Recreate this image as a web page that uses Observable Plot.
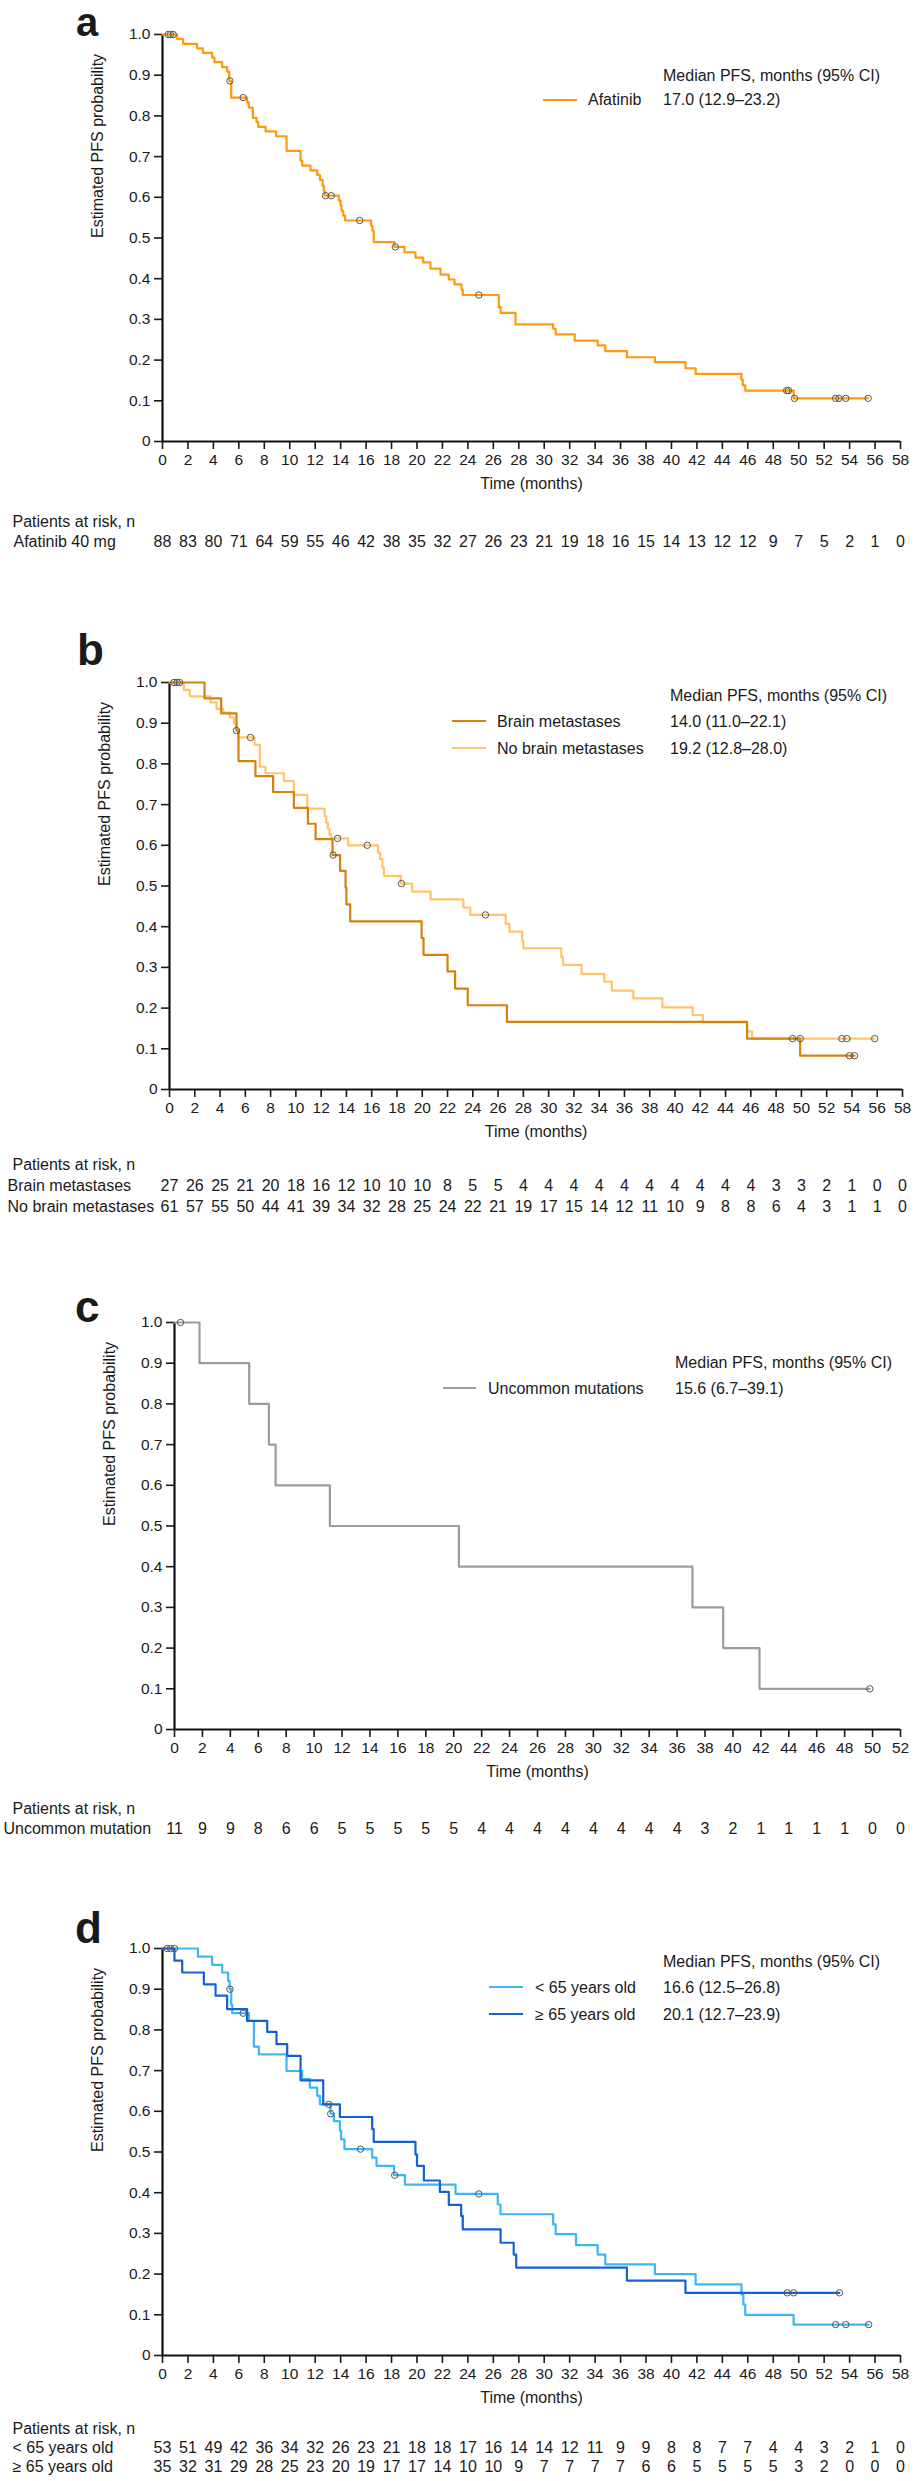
<!DOCTYPE html>
<html><head><meta charset="utf-8">
<script src="https://cdn.jsdelivr.net/npm/d3@7"></script>
<script src="https://cdn.jsdelivr.net/npm/@observablehq/plot@0.6"></script>
<style>
body{margin:0;background:#fff;}
#root{position:relative;width:914px;height:2481px;overflow:hidden;font-family:"Liberation Sans",Arial,sans-serif;color:#1a1a1a;background:#fff;}
.t{position:absolute;white-space:nowrap;font-size:16px;line-height:20px;}
.letter{position:absolute;font-weight:bold;font-size:44px;line-height:24px;}
.letterTop{position:absolute;font-weight:bold;font-size:40px;line-height:normal;}
.sw{position:absolute;height:0;border-top-style:solid;border-top-width:2.5px;}
</style></head><body><div id="root"></div>
<script>
// ---------- Panel a: Afatinib ----------
const afatinibTime = [0,1.15,1.62,2.72,3.17,3.9,4.09,4.69,5.08,5.25,5.4,6.65,6.79,7.1,7.39,7.52,8.1,8.93,9.75,10.85,10.98,11.63,12.16,12.37,12.58,12.68,12.75,13.86,13.99,14.07,14.2,14.35,16.4,16.5,16.6,18.23,19.02,19.88,20.49,21.06,21.85,22.5,22.95,23.5,23.6,26.43,26.57,27.74,30.7,30.9,32.4,34.2,34.8,36.5,38.7,41.1,41.9,45.5,45.6,45.8,49.6];
const afatinibSurv = [1,0.989,0.977,0.966,0.955,0.943,0.932,0.92,0.909,0.886,0.845,0.833,0.82,0.795,0.785,0.773,0.762,0.75,0.714,0.69,0.678,0.666,0.655,0.643,0.628,0.616,0.604,0.592,0.58,0.567,0.555,0.543,0.53,0.518,0.49,0.478,0.465,0.452,0.44,0.425,0.41,0.398,0.386,0.373,0.36,0.33,0.316,0.288,0.277,0.263,0.248,0.236,0.222,0.207,0.195,0.18,0.166,0.152,0.138,0.125,0.106];
const afatinibEnd = 55.46;
const afatinibCensorTime = [0.45,0.63,0.84,5.3,6.34,12.81,13.26,15.5,18.3,24.86,49.05,49.2,49.67,52.9,53.16,53.7,55.46];
const afatinibCensorSurv = [1,1,1,0.886,0.845,0.604,0.604,0.543,0.478,0.36,0.125,0.125,0.106,0.106,0.106,0.106,0.106];
const atRiskAfatinib = [88,83,80,71,64,59,55,46,42,38,35,32,27,26,23,21,19,18,16,15,14,13,12,12,9,7,5,2,1,0];

// ---------- Panel b: brain metastases ----------
const brainTime = [0,2.77,4.09,5.3,5.46,6.8,8.2,9.84,10.95,11.56,12.9,13.5,13.93,14.0,14.3,19.95,20.1,22.0,22.6,23.6,26.7,45.7,49.9];
const brainSurv = [1,0.961,0.924,0.882,0.807,0.77,0.731,0.692,0.653,0.615,0.576,0.537,0.496,0.455,0.413,0.372,0.331,0.29,0.248,0.207,0.166,0.125,0.083];
const brainEnd = 54.2;
const brainCensorTime = [0.35,0.6,12.95,49.3,53.8,54.2];
const brainCensorSurv = [1,1,0.576,0.125,0.083,0.083];
const noBrainTime = [0,1.13,1.6,3.25,3.72,4.25,4.78,5.1,5.3,5.46,6.73,7.15,7.6,9.05,9.84,10.9,12.27,12.4,12.53,12.66,12.8,14.14,16.5,16.66,16.84,16.97,18.3,19.2,20.66,23.25,23.8,26.6,26.9,27.9,28.0,31.0,31.14,32.6,34.4,35.0,36.7,39.0,41.4,42.2,45.7,46.1];
const noBrainSurv = [1,0.982,0.966,0.951,0.935,0.926,0.914,0.9,0.882,0.865,0.847,0.793,0.777,0.758,0.724,0.69,0.672,0.656,0.64,0.627,0.617,0.6,0.582,0.566,0.545,0.525,0.506,0.486,0.467,0.447,0.429,0.407,0.388,0.366,0.347,0.325,0.306,0.284,0.265,0.243,0.224,0.202,0.183,0.165,0.143,0.125];
const noBrainEnd = 55.8;
const noBrainCensorTime = [0.8,5.3,6.41,13.3,15.65,18.35,25.0,49.9,53.2,53.6,55.8];
const noBrainCensorSurv = [1,0.882,0.865,0.617,0.6,0.506,0.429,0.125,0.125,0.125,0.125];
const atRiskBrain = [27,26,25,21,20,18,16,12,10,10,10,8,5,5,4,4,4,4,4,4,4,4,4,4,3,3,2,1,0,0];
const atRiskNoBrain = [61,57,55,50,44,41,39,34,32,28,25,24,22,21,19,17,15,14,12,11,10,9,8,8,6,4,3,1,1,0];

// ---------- Panel c: uncommon mutations ----------
const uncommonTime = [0,1.79,5.35,6.76,7.24,11.13,20.37,37.1,39.3,41.9];
const uncommonSurv = [1,0.9,0.8,0.7,0.6,0.5,0.4,0.3,0.2,0.1];
const uncommonEnd = 49.8;
const uncommonCensorTime = [0.43,49.8];
const uncommonCensorSurv = [1,0.1];
const atRiskUncommon = [11,9,9,8,6,6,5,5,5,5,5,4,4,4,4,4,4,4,4,3,2,1,1,1,1,0,0];

// ---------- Panel d: age ----------
const youngTime = [0,2.78,3.9,4.69,5.16,5.28,5.4,5.48,6.79,7.18,7.57,9.75,10.98,11.58,12.16,12.37,13.2,13.47,13.94,14.04,14.3,16.48,16.82,18.2,19.05,23.03,26.35,26.56,30.7,30.9,32.5,34.2,34.8,38.7,41.9,45.5,45.65,45.8,49.6];
const youngSurv = [1,0.98,0.96,0.941,0.92,0.9,0.862,0.841,0.822,0.759,0.74,0.699,0.679,0.658,0.638,0.617,0.594,0.576,0.552,0.531,0.507,0.486,0.466,0.443,0.42,0.397,0.371,0.347,0.322,0.298,0.271,0.248,0.224,0.2,0.175,0.15,0.125,0.1,0.076];
const youngEnd = 55.5;
const youngCensorTime = [0.37,0.63,0.94,5.3,6.34,13.07,13.22,15.56,18.25,24.86,52.9,53.7,55.5];
const youngCensorSurv = [1,1,1,0.9,0.841,0.617,0.594,0.507,0.443,0.397,0.076,0.076,0.076];
const oldTime = [0,0.94,1.55,3.25,4.17,5.08,6.65,8.23,8.96,9.8,10.85,12.63,13.94,16.48,16.6,19.88,20.0,20.54,21.8,22.5,23.47,23.6,26.57,27.6,27.8,36.5,41.1];
const oldSurv = [1,0.97,0.941,0.912,0.884,0.851,0.822,0.795,0.765,0.736,0.676,0.617,0.586,0.556,0.525,0.494,0.466,0.43,0.402,0.37,0.343,0.31,0.277,0.248,0.216,0.184,0.154];
const oldEnd = 53.2;
const oldCensorTime = [49.1,49.6,53.2];
const oldCensorSurv = [0.154,0.154,0.154];
const atRiskYoung = [53,51,49,42,36,34,32,26,23,21,18,18,17,16,14,14,12,11,9,9,8,8,7,7,4,4,3,2,1,0];
const atRiskOld = [35,32,31,29,28,25,23,20,19,17,17,14,10,10,9,7,7,7,7,6,6,5,5,5,5,3,2,0,0,0];

// ---------- text ----------
const legendHeader = "Median PFS, months (95% CI)";
const yTickLabels = ["0","0.1","0.2","0.3","0.4","0.5","0.6","0.7","0.8","0.9","1.0"];

const FONT = '"Liberation Sans", Arial, sans-serif';
const root = document.getElementById("root");

function series(time, surv, end, color, width) {
  const pts = time.map((t, i) => ({t, s: surv[i]}));
  pts.push({t: end, s: surv[surv.length - 1]});
  return {pts, color, width};
}
function censors(time, surv) { return time.map((t, i) => ({t, s: surv[i]})); }

function panel(cfg) {
  const {top, height, marginTop, marginLeft, marginRight, xMax, lines, cens, rows, patientsDy} = cfg;
  const frameH = 407;
  const marginBottom = height - marginTop - frameH;
  const ticksX = d3.range(0, xMax + 1, 2);
  const ticksY = d3.range(0, 11).map(i => i / 10);
  const marks = [
    Plot.axisX({ticks: ticksX, tickSize: 8, tickPadding: 4, tickFormat: d => String(d), label: null, fontSize: 15.5, strokeWidth: 1.6}),
    Plot.axisY({ticks: ticksY, tickSize: 8, tickPadding: 4, tickFormat: d => yTickLabels[Math.round(d * 10)], label: null, fontSize: 15.5, strokeWidth: 1.6}),
    Plot.ruleX([0], {stroke: "#111", strokeWidth: 2.2}),
    Plot.ruleY([0], {stroke: "#111", strokeWidth: 2.2}),
    ...lines.map(l => Plot.line(l.pts, {x: "t", y: "s", curve: "step-after", stroke: l.color, strokeWidth: l.width})),
    Plot.dot(cens, {x: "t", y: "s", r: 3.2, stroke: "#555", strokeWidth: 1, fill: "none"}),
    Plot.text(["Estimated PFS probability"], {frameAnchor: "left", dx: -65, rotate: -90, fontSize: 16}),
    Plot.text(["Time (months)"], {frameAnchor: "bottom", dy: 47, fontSize: 16}),
    Plot.text(["Patients at risk, n"], {frameAnchor: "bottom-left", dx: 12 - marginLeft, dy: patientsDy, textAnchor: "start", fontSize: 16})
  ];
  for (const r of rows) {
    marks.push(Plot.text([r.label], {frameAnchor: "bottom-left", dx: r.labelX - marginLeft, dy: r.dy, textAnchor: "start", fontSize: 16}));
    marks.push(Plot.text(ticksX.map((x, i) => ({x, n: r.values[i]})), {x: "x", text: d => String(d.n), frameAnchor: "bottom", dy: r.dy, fontSize: 16}));
  }
  const svg = Plot.plot({
    width: 914, height, marginTop, marginLeft, marginRight, marginBottom,
    x: {domain: [0, xMax]},
    y: {domain: [0, 1]},
    style: {fontFamily: FONT, fontSize: "15.5px", color: "#1a1a1a", background: "white", overflow: "visible"},
    marks
  });
  svg.style.position = "absolute";
  svg.style.left = "0px";
  svg.style.top = top + "px";
  root.appendChild(svg);
}

function txt(s, x, yc) {
  const d = document.createElement("div");
  d.className = "t"; d.textContent = s;
  d.style.left = x + "px"; d.style.top = (yc - 10) + "px";
  root.appendChild(d);
}
function swatch(x1, x2, y, color) {
  const d = document.createElement("div");
  d.className = "sw";
  d.style.left = x1 + "px"; d.style.width = (x2 - x1) + "px";
  d.style.top = (y - 1.25) + "px"; d.style.borderTopColor = color;
  root.appendChild(d);
}
function letter(ch, x, baseline) {
  const d = document.createElement("div");
  d.className = "letter"; d.textContent = ch;
  d.style.left = x + "px"; d.style.top = (baseline - 27) + "px";
  root.appendChild(d);
}
function letterAtTop(ch, x) {
  const d = document.createElement("div");
  d.className = "letterTop"; d.textContent = ch;
  d.style.left = x + "px"; d.style.top = "0px";
  root.appendChild(d);
}

const cA = "#FF9A0A", cBrain = "#D4820C", cNoBrain = "#FFC46A", cUnc = "#9C9C9C", cYoung = "#3DB7F4", cOld = "#1262D4";

// Panel a
panel({top: 0, height: 590, marginTop: 34, marginLeft: 162, marginRight: 14, xMax: 58,
  lines: [series(afatinibTime, afatinibSurv, afatinibEnd, cA, 2.2)],
  cens: censors(afatinibCensorTime, afatinibCensorSurv),
  patientsDy: 85,
  rows: [{label: "Afatinib 40 mg", labelX: 13, dy: 105, values: atRiskAfatinib}]});
letterAtTop("a", 76);
txt(legendHeader, 663, 76);
swatch(543, 577, 100, cA); txt("Afatinib", 588, 100); txt("17.0 (12.9–23.2)", 663, 100);

// Panel b
panel({top: 590, height: 660, marginTop: 92, marginLeft: 169, marginRight: 12, xMax: 58,
  lines: [series(noBrainTime, noBrainSurv, noBrainEnd, cNoBrain, 2.2), series(brainTime, brainSurv, brainEnd, cBrain, 2.2)],
  cens: censors(noBrainCensorTime, noBrainCensorSurv).concat(censors(brainCensorTime, brainCensorSurv)),
  patientsDy: 80,
  rows: [{label: "Brain metastases", labelX: 7, dy: 101, values: atRiskBrain},
         {label: "No brain metastases", labelX: 7, dy: 122, values: atRiskNoBrain}]});
letter("b", 77, 665);
txt(legendHeader, 670, 696);
swatch(452, 486, 721, cBrain); txt("Brain metastases", 497, 722); txt("14.0 (11.0–22.1)", 670, 722);
swatch(452, 486, 748, cNoBrain); txt("No brain metastases", 497, 749); txt("19.2 (12.8–28.0)", 670, 749);

// Panel c
panel({top: 1250, height: 630, marginTop: 72, marginLeft: 174, marginRight: 14, xMax: 52,
  lines: [series(uncommonTime, uncommonSurv, uncommonEnd, cUnc, 2.2)],
  cens: censors(uncommonCensorTime, uncommonCensorSurv),
  patientsDy: 84,
  rows: [{label: "Uncommon mutation", labelX: 3, dy: 104, values: atRiskUncommon}]});
letter("c", 75, 1322);
txt(legendHeader, 675, 1363);
swatch(443, 476, 1388, cUnc); txt("Uncommon mutations", 488, 1389); txt("15.6 (6.7–39.1)", 675, 1389);

// Panel d
panel({top: 1880, height: 601, marginTop: 68, marginLeft: 162, marginRight: 14, xMax: 58,
  lines: [series(youngTime, youngSurv, youngEnd, cYoung, 2.2), series(oldTime, oldSurv, oldEnd, cOld, 2.2)],
  cens: censors(youngCensorTime, youngCensorSurv).concat(censors(oldCensorTime, oldCensorSurv)),
  patientsDy: 78,
  rows: [{label: "< 65 years old", labelX: 12, dy: 97, values: atRiskYoung},
         {label: "≥ 65 years old", labelX: 12, dy: 116, values: atRiskOld}]});
letter("d", 75, 1943);
txt(legendHeader, 663, 1962);
swatch(489, 523, 1987, cYoung); txt("< 65 years old", 535, 1988); txt("16.6 (12.5–26.8)", 663, 1988);
swatch(489, 523, 2014, cOld); txt("≥ 65 years old", 535, 2015); txt("20.1 (12.7–23.9)", 663, 2015);
</script></body></html>
